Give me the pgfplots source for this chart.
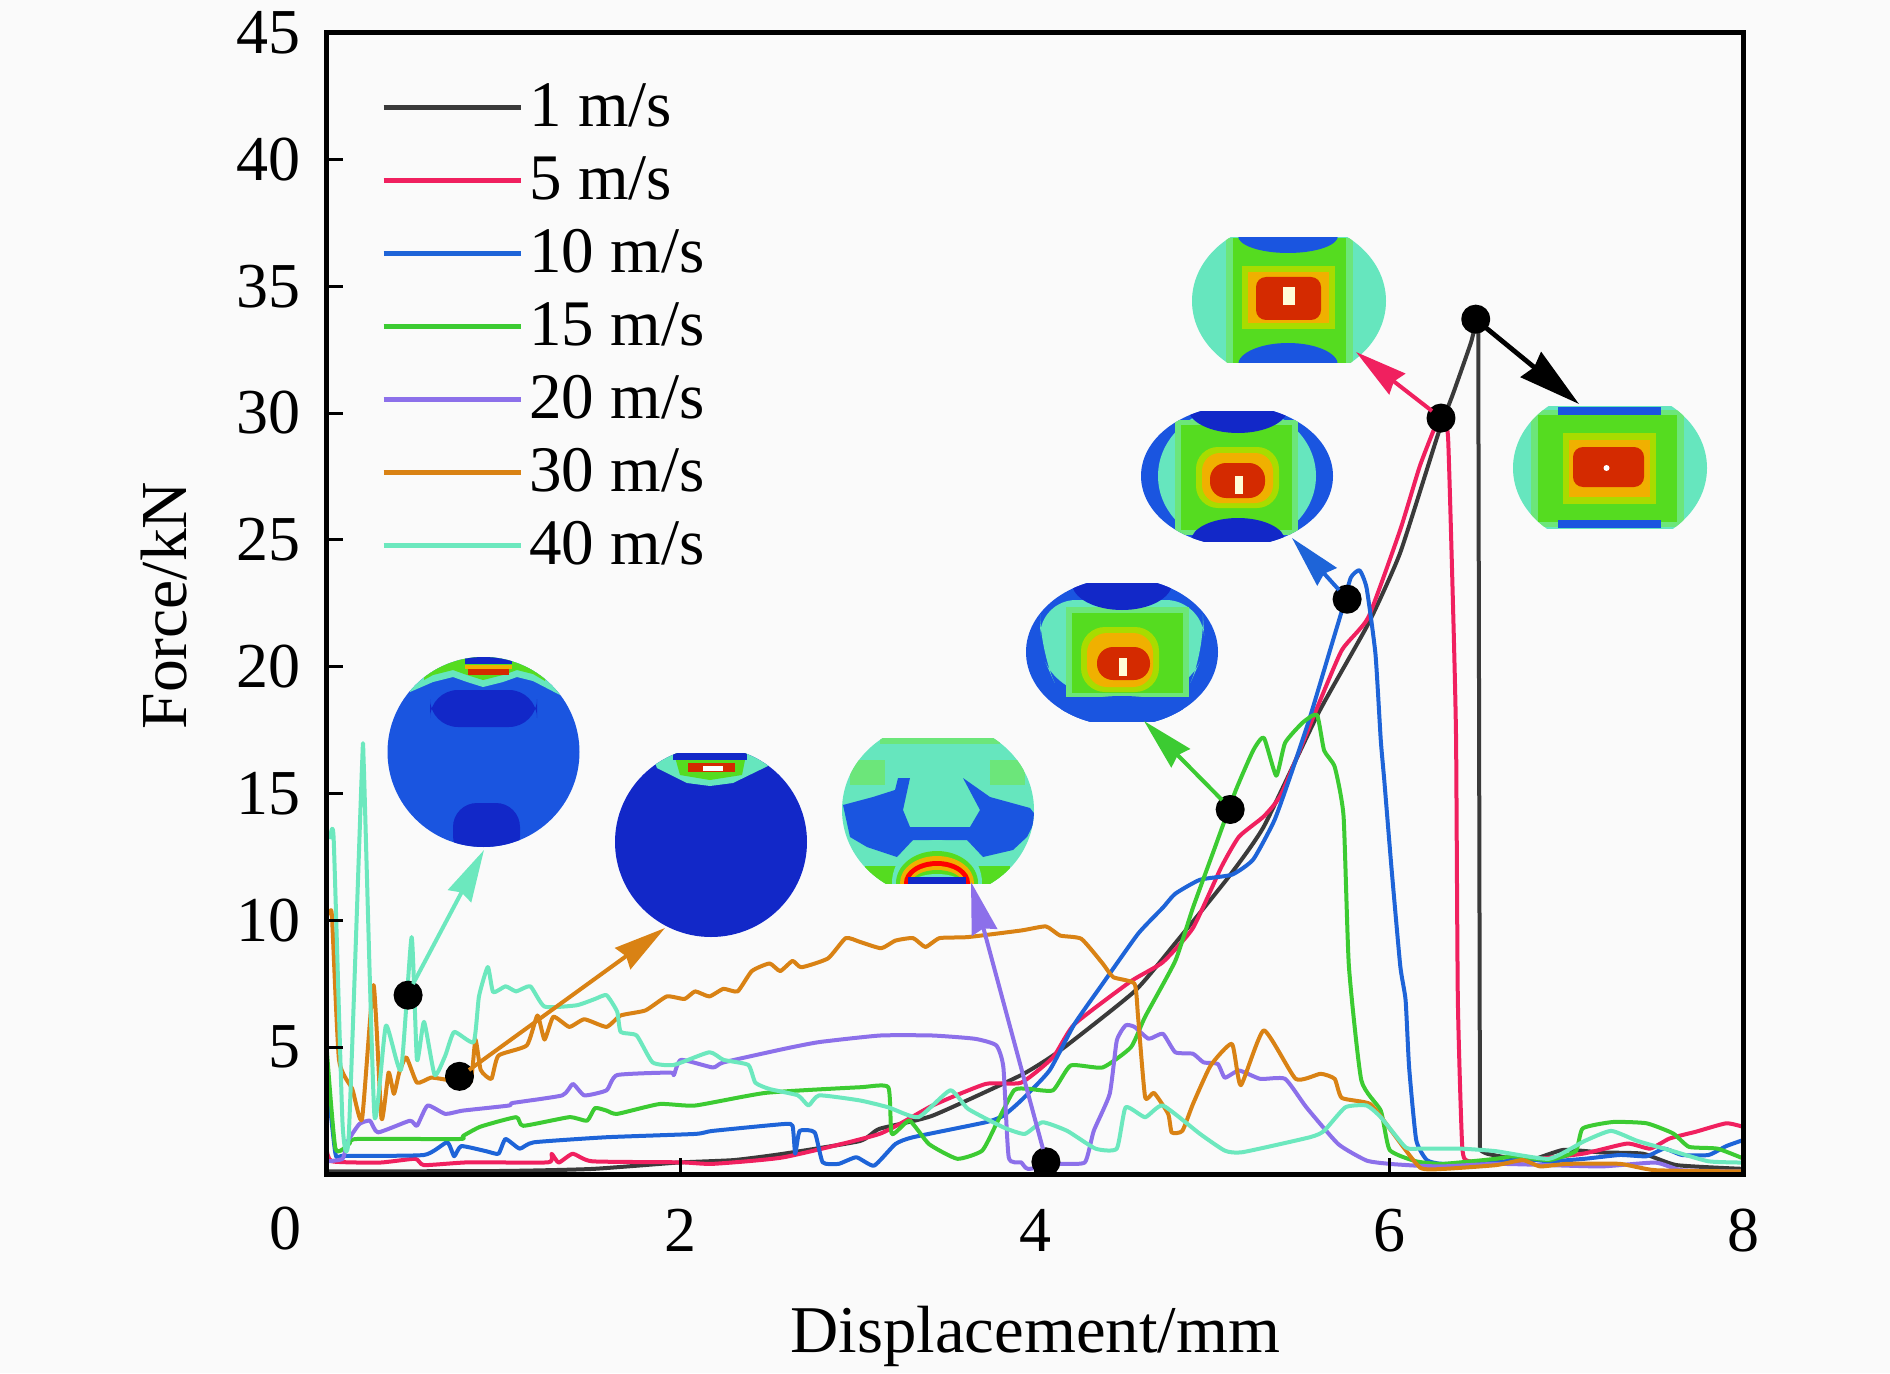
\documentclass[border=0pt]{standalone}
\usepackage{fontspec}
\setmainfont{Liberation Serif}
\usepackage{pgfplots}
\pgfplotsset{compat=1.18}
\usetikzlibrary{arrows.meta}

\definecolor{bgc}{HTML}{FAFAFA}
\definecolor{c1}{HTML}{3A3A3A}
\definecolor{c5}{HTML}{F0205F}
\definecolor{c10}{HTML}{1E64D8}
\definecolor{c15}{HTML}{3CCB32}
\definecolor{c20}{HTML}{8C70EA}
\definecolor{c30}{HTML}{D98214}
\definecolor{c40}{HTML}{6CE8BE}
% contour colours of the insets
\definecolor{fmint}{HTML}{66E6BE}
\definecolor{flight}{HTML}{6CE67A}
\definecolor{fgreen}{HTML}{55DC20}
\definecolor{fyg}{HTML}{A8DC00}
\definecolor{fyel}{HTML}{F0B000}
\definecolor{fred}{HTML}{D42A00}
\definecolor{fblue}{HTML}{1A55E0}
\definecolor{fdark}{HTML}{1228C8}

\newcommand{\bigfont}{\fontsize{32.5pt}{36pt}\selectfont}
\newcommand{\tickfont}{\fontsize{32pt}{36pt}\selectfont}

\begin{document}
\begin{tikzpicture}
\fill[bgc] (-163.3pt,-99.5pt) rectangle (781.7pt,587pt);
\useasboundingbox (-163.3pt,-99.5pt) rectangle (781.7pt,587pt);
\begin{axis}[
  at={(0pt,0pt)}, anchor=south west,
  scale only axis,
  width=708.7pt, height=570.75pt,
  xmin=0, xmax=8, ymin=0, ymax=45,
  xtick={2,4,6,8},
  ytick={5,10,...,45},
  tick pos=left,
  tick align=inside,
  major tick length=8pt,
  tick style={black, line width=1.5pt},
  axis line style={black, line width=2.5pt},
  axis on top,
  tick label style={font=\tickfont, /pgf/number format/assume math mode=true},
  yticklabel style={xshift=-9.5pt},
  xticklabel style={yshift=-14pt},
  xlabel={Displacement/mm},
  ylabel={Force/kN},
  every axis x label/.style={at={(axis description cs:0.5,-0.1425)},anchor=center,font=\fontsize{33.4pt}{36pt}\selectfont},
  every axis y label/.style={at={(axis description cs:-0.115,0.498)},rotate=90,anchor=center,font=\fontsize{32.8pt}{36pt}\selectfont},
  legend cell align=left,
  legend style={at={(axis description cs:0.0383,0.958)},anchor=north west,draw=none,fill=none,
    font=\bigfont,row sep=0pt,column sep=3.3pt,inner sep=0pt,
    nodes={inner sep=0pt,text height=23pt,text depth=13.5pt}},
  legend image code/.code={\draw[#1,line width=2.3pt] (0pt,4.8pt) -- (68.5pt,4.8pt);},
  every axis plot/.append style={line width=2pt, line join=round, smooth, tension=0.3},
]
\addplot[c1] coordinates {(0,0.1)(1.0,0.12)(1.5,0.2)(1.98,0.45)(2.3,0.55)(2.58,0.8)(3.01,1.3)(3.12,1.78)(3.42,2.3)(3.92,3.9)(4.14,4.87)(4.56,7.2)(4.79,9.1)(5.09,11.7)(5.29,13.7)(5.6,18.2)(5.88,21.7)(6.06,24.5)(6.275,29.2)(6.36,30.8)(6.46,32.8)(6.49,33.7)};
\addlegendentry{1 m/s}
% the drop of the 1 m/s curve at failure, then its tail
\addplot[c1, sharp plot, forget plot] coordinates {(6.49,33.7)(6.5,33.7)(6.51,0.95)};
\addplot[c1, forget plot] coordinates {(6.51,0.95)(6.55,0.8)(6.7,0.6)(6.8,0.55)(6.98,0.95)(7.2,0.85)(7.43,0.8)(7.62,0.35)(8,0.2)};
\addplot[c5] coordinates {(0,1.0)(0.03,0.5)(0.3,0.45)(0.5,0.6)(0.55,0.35)(0.8,0.46)(1.25,0.46)(1.27,0.8)(1.31,0.45)(1.39,0.8)(1.5,0.5)(2.0,0.46)(2.18,0.4)(2.58,0.66)(3.12,1.58)(3.42,2.7)(3.72,3.55)(3.92,3.6)(4.1,4.6)(4.22,5.9)(4.54,7.6)(4.72,8.35)(4.89,9.7)(5.05,12.1)(5.15,13.3)(5.29,14.1)(5.39,15)(5.58,18.2)(5.73,20.65)(5.88,21.95)(6.06,25.4)(6.17,27.9)(6.265,29.6)(6.3,29.9)(6.33,29)(6.36,21.8)(6.375,17.1)(6.385,6.86)(6.41,1.06)(6.45,0.5)(6.7,0.5)(7.09,0.8)(7.34,1.2)(7.47,1.0)(7.58,1.4)(7.73,1.67)(7.9,2.0)(8,1.85)};
\addlegendentry{5 m/s}
\addplot[c10] coordinates {(0,4)(0.05,0.8)(0.1,0.72)(0.55,0.75)(0.68,1.25)(0.72,0.7)(0.76,1.1)(0.9,0.9)(0.97,0.8)(1.01,1.38)(1.09,1.0)(1.17,1.25)(1.58,1.45)(2.08,1.58)(2.18,1.7)(2.58,1.97)(2.63,1.9)(2.645,0.8)(2.67,1.7)(2.755,1.64)(2.8,0.46)(2.89,0.4)(2.99,0.66)(3.09,0.33)(3.21,1.18)(3.31,1.45)(3.72,2.04)(3.82,2.3)(3.92,2.9)(4.08,4.08)(4.22,5.9)(4.38,7.5)(4.58,9.47)(4.72,10.5)(4.79,11.05)(4.93,11.6)(5.11,11.8)(5.23,12.4)(5.35,13.95)(5.45,15.9)(5.55,18.0)(5.67,20.8)(5.73,22.2)(5.78,23.5)(5.83,23.8)(5.87,23.1)(5.92,20.5)(5.95,17.1)(5.97,15.5)(6.01,12.1)(6.06,8.2)(6.09,6.86)(6.11,4.2)(6.15,1.34)(6.21,0.55)(6.3,0.4)(6.6,0.45)(6.75,0.6)(6.9,0.5)(7.1,0.6)(7.3,0.75)(7.45,0.7)(7.55,1.0)(7.65,0.75)(7.8,0.75)(7.9,1.1)(8,1.35)};
\addlegendentry{10 m/s}
\addplot[c15] coordinates {(0,5)(0.05,1)(0.13,1.2)(0.17,1.38)(0.75,1.38)(0.77,1.5)(0.87,1.87)(1.07,2.24)(1.11,1.9)(1.37,2.24)(1.47,2.1)(1.515,2.6)(1.58,2.5)(1.64,2.37)(1.88,2.76)(2.08,2.7)(2.48,3.2)(3.01,3.42)(3.17,3.42)(3.19,1.58)(3.29,2.1)(3.4,1.18)(3.56,0.6)(3.7,0.92)(3.78,1.97)(3.88,3.3)(3.96,3.36)(4.1,3.3)(4.2,4.28)(4.38,4.2)(4.54,5)(4.62,6.2)(4.79,8.4)(4.89,10.5)(5.01,12.8)(5.13,15.1)(5.23,16.7)(5.29,17.2)(5.36,15.7)(5.41,17)(5.51,17.8)(5.59,18.1)(5.63,16.7)(5.69,16.05)(5.74,14.1)(5.77,8.2)(5.84,3.7)(5.95,2.5)(6.0,0.95)(6.15,0.5)(6.3,0.4)(6.6,0.6)(6.7,0.7)(6.9,0.55)(7.05,0.9)(7.09,1.8)(7.26,2.05)(7.45,2.0)(7.6,1.6)(7.69,1.07)(7.85,1.0)(8,0.6)};
\addlegendentry{15 m/s}
\addplot[c20] coordinates {(0,0.5)(0.09,0.6)(0.12,1.3)(0.185,1.97)(0.245,2.1)(0.29,1.64)(0.47,2.1)(0.51,1.9)(0.57,2.7)(0.67,2.37)(0.77,2.5)(1.03,2.7)(1.05,2.8)(1.33,3.1)(1.39,3.55)(1.455,3.1)(1.58,3.3)(1.64,3.9)(1.94,4.0)(1.96,3.9)(2,4.5)(2.18,4.2)(2.24,4.4)(2.58,4.93)(2.78,5.2)(3.125,5.46)(3.42,5.46)(3.66,5.33)(3.78,5.07)(3.82,4.2)(3.85,0.66)(3.92,0.46)(3.96,0.2)(4.14,0.4)(4.28,0.46)(4.33,1.7)(4.42,3.16)(4.46,5.26)(4.51,5.86)(4.56,5.8)(4.64,5.33)(4.72,5.53)(4.79,4.8)(4.89,4.74)(4.95,4.4)(5.03,4.34)(5.07,3.8)(5.15,4.08)(5.27,3.75)(5.41,3.75)(5.53,2.63)(5.71,1.18)(5.87,0.53)(6,0.4)(6.15,0.33)(6.3,0.3)(6.6,0.4)(6.9,0.35)(7.2,0.3)(7.5,0.45)(7.65,0.15)(8,0.1)};
\addlegendentry{20 m/s}
\addplot[c30] coordinates {(0.015,10.2)(0.03,10.2)(0.07,4.5)(0.145,3.35)(0.2,2.17)(0.265,7.45)(0.31,2.17)(0.35,4)(0.38,3.16)(0.41,4)(0.45,4.6)(0.51,3.6)(0.59,3.8)(0.69,3.7)(0.81,3.6)(0.84,5.3)(0.87,4.1)(0.93,3.75)(0.97,4.67)(1.13,5.07)(1.19,6.25)(1.23,5.3)(1.28,6.2)(1.37,5.8)(1.455,6.1)(1.58,5.8)(1.66,6.25)(1.8,6.45)(1.92,7)(2.02,6.9)(2.08,7.2)(2.16,7)(2.24,7.3)(2.32,7.2)(2.4,8)(2.5,8.3)(2.56,8)(2.63,8.4)(2.68,8.15)(2.83,8.5)(2.93,9.3)(3.01,9.15)(3.13,8.9)(3.21,9.2)(3.31,9.3)(3.38,8.95)(3.46,9.3)(3.62,9.34)(3.92,9.6)(4.06,9.76)(4.14,9.4)(4.26,9.27)(4.38,8.3)(4.44,7.76)(4.56,7.5)(4.58,6.2)(4.62,3.03)(4.67,3.2)(4.75,2.37)(4.77,1.64)(4.83,1.7)(4.89,2.76)(4.99,4.28)(5.11,5.13)(5.16,3.5)(5.29,5.66)(5.47,3.75)(5.61,3.95)(5.69,3.75)(5.73,3)(5.89,2.76)(6.01,1.7)(6.17,0.26)(6.3,0.2)(6.6,0.35)(6.75,0.55)(6.85,0.3)(7,0.4)(7.3,0.4)(7.5,0.15)(8,0.1)};
\addlegendentry{30 m/s}
\addplot[c40] coordinates {(0.02,13.2)(0.04,13.2)(0.09,2)(0.125,1.5)(0.2,16.1)(0.21,16.1)(0.27,2.3)(0.335,5.85)(0.42,4.1)(0.48,9.34)(0.51,4.5)(0.55,6)(0.61,3.9)(0.67,4.67)(0.72,5.6)(0.83,5.2)(0.86,7)(0.91,8.16)(0.94,7.17)(1.01,7.4)(1.07,7.2)(1.15,7.4)(1.23,6.6)(1.41,6.65)(1.515,6.9)(1.58,7.05)(1.64,6.4)(1.66,5.6)(1.75,5.46)(1.84,4.4)(1.96,4.3)(2.16,4.8)(2.24,4.5)(2.38,4.3)(2.42,3.6)(2.5,3.35)(2.66,3.1)(2.72,2.7)(2.78,3.1)(3.01,2.9)(3.17,2.63)(3.34,2.24)(3.52,3.3)(3.62,2.57)(3.82,1.84)(3.94,1.58)(4.04,2.04)(4.18,1.7)(4.34,1)(4.46,1)(4.51,2.63)(4.62,2.24)(4.72,2.7)(4.93,1.58)(5.07,0.92)(5.17,0.86)(5.55,1.45)(5.63,1.7)(5.75,2.63)(5.87,2.7)(5.95,2.24)(6.09,1.05)(6.17,1.0)(6.4,1.0)(6.6,0.9)(6.9,0.6)(7.1,1.3)(7.25,1.7)(7.4,1.3)(7.6,0.9)(7.8,0.5)(8,0.45)};
\addlegendentry{40 m/s}
% picked points on the curves
\addplot[only marks, mark=*, mark size=6.25pt, black, forget plot] coordinates {(0.46,7.05)(0.75,3.85)(4.06,0.48)(5.10,14.37)(5.76,22.66)(6.29,29.8)(6.486,33.7)};
\end{axis}
% from here on coordinates are image pixels
\begin{scope}[shift={(-163.3pt,587pt)},x=0.5pt,y=-0.5pt,
  tip/.style={-{Stealth[length=#1pt,width=13pt,inset=2pt]}}]
  \node[font=\tickfont] at (286,1229) {0};

  % 40 m/s
  \begin{scope}
    \clip (483.5,752) ellipse [x radius=96,y radius=95];
    \clip (380,657) rectangle (590,850);
    \fill[fblue] (380,650) rectangle (590,850);
    \fill[fmint] (410,650) -- (560,650) -- (560,695) -- (533,681) -- (517,677) -- (503,682) -- (483,687) -- (467,682) -- (453,677) -- (433,682) -- (410,692) -- cycle;
    \fill[fgreen] (424,650) -- (545,650) -- (545,681) -- (533,674) -- (517,670) -- (503,675) -- (483,680) -- (467,675) -- (453,670) -- (433,675) -- (424,680) -- cycle;
    \fill[fdark,rounded corners=14pt] (430,690) rectangle (537,727);
    \fill[fdark,rounded corners=12pt] (453,803) rectangle (520,860);
    \fill[fdark] (465,655) rectangle (512,664);
    \fill[fyel] (465,665) rectangle (512,669);
    \fill[fred] (468,669) rectangle (509,675);
  \end{scope}
  % 30 m/s
  \begin{scope}
    \clip (711,842) ellipse [x radius=96,y radius=95];
    \clip (600,753) rectangle (820,940);
    \fill[fdark] (600,750) rectangle (820,940);
    \fill[fmint] (650,750) -- (770,750) -- (770,765) -- (733,783) -- (710,786) -- (687,783) -- (657,768) -- cycle;
    \fill[fgreen] (673,750) -- (747,750) -- (742,775) -- (710,780) -- (680,775) -- cycle;
    \fill[fdark] (673,752) rectangle (747,760);
    \fill[fred] (688,763) rectangle (735,772);
    \fill[white] (703,766) rectangle (723,771);
  \end{scope}
  % 20 m/s
  \begin{scope}
    \clip (938,810) ellipse [x radius=96,y radius=88];
    \clip (840,738) rectangle (1040,883);
    \fill[fmint] (840,730) rectangle (1040,890);
    \fill[flight] (850,760) rectangle (885,785);
    \fill[flight] (990,760) rectangle (1025,785);
    \fill[flight] (880,738) rectangle (1000,744);
    \fill[fblue] (843,805) -- (873,797) -- (895,790) -- (898,778) -- (910,778) -- (903,810) -- (910,827) -- (970,827) -- (980,810) -- (963,778) -- (990,797) -- (1030,808) -- (1037,817) -- (1027,837) -- (1013,850) -- (983,857) -- (967,840) -- (913,840) -- (897,857) -- (867,847) -- (850,837) -- cycle;
    \fill[fgreen] (865,866) rectangle (1010,890);
    \fill[fmint] (937,883) ellipse [x radius=45,y radius=43];
    \fill[fgreen] (937,883) ellipse [x radius=41,y radius=32];
    \fill[fyel] (937,883) ellipse [x radius=37,y radius=27];
    \fill[red] (937,883) ellipse [x radius=33,y radius=22];
    \fill[fyel] (937,883) ellipse [x radius=28,y radius=17];
    \fill[fgreen] (937,883) ellipse [x radius=25,y radius=13];
    \fill[fmint] (937,883) ellipse [x radius=24,y radius=9];
    \fill[fdark] (908,877) rectangle (966,884);
  \end{scope}
  % 15 m/s
  \begin{scope}
    \clip (1122,652) ellipse [x radius=96,y radius=74];
    \clip (1020,583) rectangle (1225,721);
    \fill[fblue] (1020,575) rectangle (1225,730);
    \fill[fmint,rounded corners=18pt] (1040,600) -- (1202,600) -- (1205,650) -- (1185,695) -- (1060,695) -- (1040,650) -- cycle;
    \fill[flight] (1066,607) rectangle (1189,697);
    \fill[fgreen] (1072,613) rectangle (1183,693);
    \fill[fdark] (1122,583) ellipse [x radius=50,y radius=27];
    \fill[fblue] (1122,722) ellipse [x radius=70,y radius=26];
    \fill[fyg,rounded corners=12pt] (1081,627) rectangle (1159,692);
    \fill[fyel,rounded corners=10pt] (1087,633) rectangle (1153,687);
    \fill[fred,rounded corners=8pt] (1097,647) rectangle (1150,680);
    \fill[white!85!yellow] (1119,658) rectangle (1127,676);
  \end{scope}
  % 10 m/s
  \begin{scope}
    \clip (1237,476) ellipse [x radius=96,y radius=70];
    \clip (1135,411) rectangle (1340,541);
    \fill[fblue] (1135,405) rectangle (1340,545);
    \fill[fmint] (1237,476) ellipse [x radius=79,y radius=70];
    \fill[flight] (1175,420) rectangle (1298,535);
    \fill[fgreen] (1181,425) rectangle (1292,530);
    \fill[fdark] (1238,408) ellipse [x radius=50,y radius=25];
    \fill[fdark] (1238,541) ellipse [x radius=47,y radius=23];
    \fill[fyg,rounded corners=11pt] (1196,447) rectangle (1279,508);
    \fill[fyel,rounded corners=9pt] (1202,453) rectangle (1273,503);
    \fill[fred,rounded corners=8pt] (1210,463) rectangle (1265,498);
    \fill[white!85!yellow] (1235,476) rectangle (1243,494);
  \end{scope}
  % 5 m/s
  \begin{scope}
    \clip (1289,301) ellipse [x radius=97,y radius=80];
    \clip (1185,238) rectangle (1390,363);
    \fill[fmint] (1185,230) rectangle (1390,370);
    \fill[flight] (1226,238) rectangle (1353,363);
    \fill[fgreen] (1233,238) rectangle (1346,363);
    \fill[fblue] (1288,236) ellipse [x radius=50,y radius=17];
    \fill[fblue] (1288,365) ellipse [x radius=50,y radius=22];
    \fill[fyg] (1242,266) rectangle (1335,329);
    \fill[fyel] (1248,272) rectangle (1329,323);
    \fill[fred,rounded corners=5pt] (1256,277) rectangle (1321,320);
    \fill[white!85!yellow] (1283,287) rectangle (1295,305);
  \end{scope}
  % 1 m/s
  \begin{scope}
    \clip (1610,468) ellipse [x radius=97,y radius=80];
    \clip (1505,407) rectangle (1715,528);
    \fill[fmint] (1505,400) rectangle (1715,535);
    \fill[flight] (1531,410) rectangle (1684,527);
    \fill[fgreen] (1538,415) rectangle (1677,522);
    \fill[fblue] (1558,407) rectangle (1661,415);
    \fill[fblue] (1558,520) rectangle (1661,528);
    \fill[fyg] (1563,433) rectangle (1656,504);
    \fill[fyel] (1569,440) rectangle (1650,497);
    \fill[fred,rounded corners=5pt] (1573,447) rectangle (1644,487);
    \fill[white] (1606.5,468) circle (3);
  \end{scope}

  % arrows from the points to the insets
  \draw[c40,line width=2pt,tip=26] (413,984) -- (484,850);
  \draw[c30,line width=2pt,tip=26] (469,1070) -- (665,928);
  \draw[c20,line width=2pt,tip=26] (1043,1149) -- (971,882);
  \draw[c15,line width=2pt,tip=26] (1222,800) -- (1144,721);
  \draw[c10,line width=2pt,tip=26] (1339,590) -- (1292,538);
  \draw[c5,line width=2pt,tip=26] (1432,411) -- (1356,352);
  \draw[black,line width=2.4pt,-{Stealth[length=31pt,width=16pt,inset=2pt]}] (1485,327) -- (1579,404);
\end{scope}
\end{tikzpicture}
\end{document}
